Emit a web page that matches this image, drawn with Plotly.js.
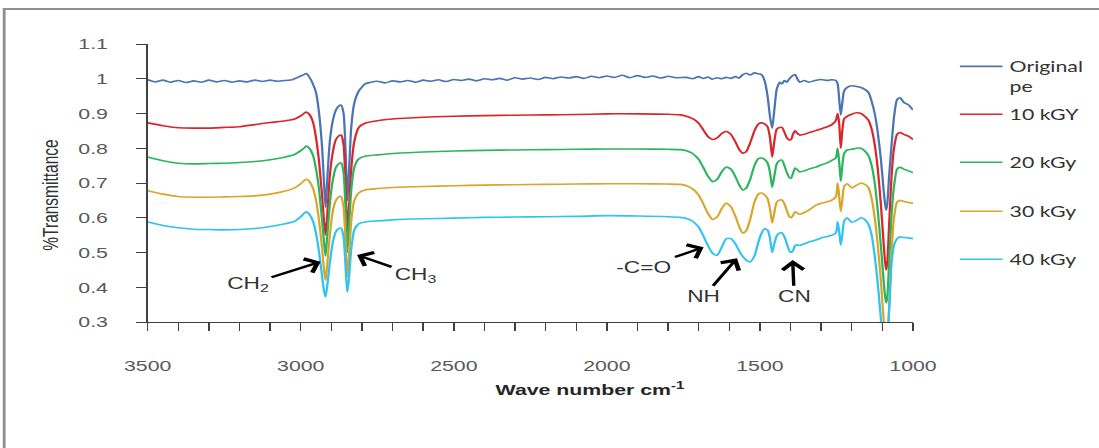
<!DOCTYPE html>
<html><head><meta charset="utf-8">
<script src="https://cdn.plot.ly/plotly-3.0.1.min.js"></script>
<style>
html,body{margin:0;padding:0;background:#fff;overflow:hidden;}
#wrap{width:1099px;height:448px;overflow:hidden;position:relative;background:#fff;}
#chart{width:774px;height:448px;transform:scaleX(1.4199);transform-origin:0 0;}
</style></head>
<body><div id="wrap"><div id="chart"></div></div>
<script>
// ---------- data ----------
var seriesNames = ["Original pe", "10 kGY", "20 kGy", "30 kGy", "40 kGy"];

// wavenumbers (cm-1) for the original spectrum
var wnOrig = [
  3500,3475,3450,3425,3400,3375,3350,3325,3300,3275,3250,3225,3200,3175,3150,3125,3100,3075,3050,3025,
  3020,3000,2990,2982,2972,2960,2950,2940,2930,2924,2919,2914,2905,2895,2885,2875,2868,2860,2853,2848,2843,2835,2825,2810,2790,
  2775,2750,2725,2700,2675,2650,2625,2600,2575,2550,2525,2500,2475,2450,2425,2400,2375,2350,2325,2300,2275,2250,2225,2200,2175,2150,2125,2100,2075,2050,2025,2000,1975,1950,1925,1900,1875,1850,1825,1800,1775,
  1740,1720,1700,1685,1670,1655,1640,1625,1610,1595,1580,1568,1556,1545,1532,1518,1505,1495,1485,1475,1467,1460,1453,1445,1435,1428,1420,1412,1404,1398,1392,1385,1378,1370,1355,1340,
  1320,1300,1280,1265,1252,1246,1241,1236,1231,1225,1215,1200,1185,1170,1155,1145,1135,1125,1115,1105,1097,1092,1088,1084,1078,1070,1062,1052,1042,1030,1015,1000
];
var yOrig = [
  0.997,0.991,0.996,0.990,0.995,0.989,0.994,0.990,0.996,0.991,0.995,0.990,0.994,0.991,0.996,0.992,0.996,0.993,0.995,0.998,
  1.000,1.008,1.012,1.015,1.005,0.985,0.960,0.900,0.800,0.700,0.630,0.700,0.820,0.880,0.910,0.922,0.924,0.900,0.780,0.650,0.720,0.860,0.930,0.965,0.985,
  0.989,0.993,0.988,0.994,0.991,0.995,0.990,0.996,0.993,0.997,0.992,0.998,0.995,0.999,0.994,1.000,0.997,1.001,0.996,1.003,0.999,1.002,0.998,1.004,1.000,1.005,1.002,1.006,1.001,1.007,1.003,1.008,1.004,1.010,1.003,1.009,1.004,1.008,1.002,1.007,1.003,
  1.004,1.000,1.006,1.001,1.005,0.999,1.003,1.000,1.004,1.001,1.006,1.002,1.012,1.016,1.011,1.017,1.014,1.012,0.995,0.950,0.890,0.858,0.910,0.970,0.990,0.985,0.995,0.990,1.000,1.005,1.010,1.012,1.000,0.990,0.995,0.990,
  0.995,0.998,0.995,0.997,0.995,0.985,0.940,0.896,0.930,0.965,0.975,0.980,0.978,0.975,0.968,0.960,0.935,0.900,0.845,0.770,0.690,0.645,0.622,0.640,0.720,0.810,0.890,0.940,0.945,0.932,0.925,0.910
];

// wavenumbers (cm-1) for the irradiated spectra
var wnIrr = [
  3500,3450,3400,3350,3300,3250,3200,3150,3100,3050,
  3020,3000,2990,2982,2972,2960,2950,2940,2930,2924,2919,2914,2905,2895,2885,2875,2868,2860,2853,2848,2843,2835,2825,2810,2790,
  2750,2700,2600,2500,2400,2300,2200,2100,2000,1900,1800,1760,
  1740,1720,1700,1685,1670,1655,1640,1625,1610,1595,1580,1568,1556,1545,1532,1518,1505,1495,1485,1475,1467,1460,1453,1445,1435,1428,1420,1412,1404,1398,1392,1385,1378,1370,1355,1340,
  1320,1300,1280,1265,1252,1246,1241,1236,1231,1225,1215,1200,1185,1170,1155,1145,1135,1125,1115,1105,1097,1092,1088,1084,1078,1070,1062,1052,1042,1030,1015,1000
];
var y10 = [
  0.873,0.865,0.859,0.858,0.858,0.860,0.862,0.868,0.874,0.879,
  0.884,0.893,0.900,0.904,0.898,0.875,0.830,0.760,0.660,0.590,0.550,0.600,0.720,0.790,0.825,0.836,0.838,0.810,0.680,0.560,0.620,0.740,0.820,0.860,0.872,
  0.879,0.884,0.889,0.892,0.894,0.895,0.896,0.897,0.899,0.899,0.898,0.896,
  0.892,0.885,0.872,0.853,0.834,0.825,0.830,0.842,0.848,0.840,0.818,0.797,0.786,0.790,0.815,0.850,0.870,0.873,0.870,0.862,0.830,0.775,0.820,0.855,0.860,0.860,0.846,0.830,0.824,0.825,0.840,0.850,0.843,0.838,0.840,0.845,
  0.850,0.856,0.862,0.868,0.880,0.900,0.870,0.800,0.850,0.885,0.892,0.898,0.902,0.900,0.890,0.880,0.855,0.810,0.740,0.640,0.540,0.480,0.450,0.470,0.580,0.720,0.800,0.840,0.845,0.840,0.835,0.825
];
var y20 = [
  0.775,0.764,0.757,0.755,0.756,0.757,0.759,0.762,0.767,0.775,
  0.782,0.793,0.800,0.806,0.800,0.780,0.740,0.680,0.590,0.530,0.490,0.540,0.640,0.710,0.745,0.756,0.758,0.730,0.610,0.500,0.560,0.680,0.745,0.770,0.777,
  0.781,0.785,0.789,0.792,0.794,0.795,0.796,0.797,0.798,0.798,0.797,0.796,
  0.793,0.785,0.768,0.745,0.720,0.704,0.710,0.732,0.746,0.740,0.718,0.695,0.680,0.685,0.710,0.750,0.770,0.772,0.768,0.758,0.730,0.688,0.720,0.755,0.765,0.766,0.750,0.730,0.716,0.714,0.728,0.743,0.738,0.732,0.735,0.740,
  0.745,0.752,0.758,0.765,0.772,0.800,0.760,0.705,0.750,0.785,0.795,0.797,0.800,0.800,0.790,0.778,0.750,0.700,0.620,0.520,0.430,0.380,0.355,0.370,0.470,0.610,0.690,0.740,0.745,0.740,0.735,0.730
];
var y30 = [
  0.678,0.668,0.661,0.659,0.659,0.660,0.661,0.663,0.668,0.677,
  0.686,0.698,0.706,0.711,0.705,0.685,0.650,0.590,0.510,0.450,0.420,0.460,0.550,0.620,0.650,0.660,0.661,0.630,0.520,0.430,0.480,0.590,0.650,0.672,0.680,
  0.684,0.687,0.690,0.692,0.694,0.695,0.696,0.697,0.698,0.698,0.697,0.696,
  0.692,0.683,0.665,0.640,0.613,0.595,0.602,0.626,0.642,0.632,0.604,0.575,0.556,0.562,0.595,0.645,0.668,0.671,0.666,0.655,0.625,0.585,0.615,0.645,0.651,0.651,0.640,0.620,0.603,0.600,0.607,0.617,0.614,0.610,0.615,0.622,
  0.635,0.642,0.646,0.651,0.660,0.700,0.660,0.618,0.650,0.690,0.698,0.686,0.693,0.700,0.695,0.686,0.655,0.600,0.520,0.420,0.320,0.260,0.230,0.250,0.340,0.500,0.600,0.645,0.650,0.647,0.644,0.642
];
var y40 = [
  0.588,0.578,0.571,0.567,0.566,0.565,0.566,0.569,0.575,0.583,
  0.590,0.603,0.612,0.617,0.610,0.590,0.555,0.500,0.430,0.390,0.372,0.400,0.470,0.530,0.560,0.569,0.570,0.545,0.450,0.386,0.420,0.510,0.565,0.583,0.588,
  0.591,0.594,0.597,0.599,0.601,0.602,0.603,0.604,0.606,0.605,0.603,0.601,
  0.598,0.590,0.573,0.548,0.520,0.498,0.492,0.515,0.540,0.540,0.525,0.505,0.488,0.478,0.473,0.490,0.530,0.555,0.568,0.565,0.540,0.500,0.525,0.548,0.556,0.556,0.545,0.525,0.505,0.500,0.505,0.520,0.522,0.520,0.525,0.530,
  0.535,0.542,0.546,0.550,0.556,0.588,0.560,0.522,0.550,0.590,0.600,0.587,0.592,0.600,0.593,0.580,0.550,0.490,0.410,0.310,0.220,0.190,0.200,0.230,0.330,0.470,0.520,0.540,0.545,0.543,0.542,0.540
];

var yTickVals = [0.3,0.4,0.5,0.6,0.7,0.8,0.9,1.0,1.1];
var yTickText = ["0.3","0.4","0.5","0.6","0.7","0.8","0.9","1","1.1"];

// band labels: text, label position, arrow head (wavenumber, transmittance)
var bandLabels = ["CH<sub>2</sub>", "CH<sub>3</sub>", "-C=O", "NH", "CN"];
var labelPos  = [[3174,0.407],[2625,0.435],[1878,0.457],[1684,0.3725],[1388,0.3725]];
var arrowHead = [[2935,0.4735],[2816,0.493],[1684,0.515],[1575,0.4833],[1393,0.4784]];

// ---------- chart ----------
var colors = ["#4a74b4", "#d9262b", "#2db45c", "#d8a62a", "#30c2f0"];
var xs = [wnOrig, wnIrr, wnIrr, wnIrr, wnIrr];
var ys = [yOrig, y10, y20, y30, y40];
var legendIds = ["legend", "legend2", "legend3", "legend4", "legend5"];
var legendTops = [0.978, 0.806, 0.633, 0.457, 0.284];

var traces = [];
for (var i=0;i<5;i++){
  var nm = (i===0) ? seriesNames[0].replace(" ", "<br>") : seriesNames[i];
  traces.push({
    x: xs[i], y: ys[i], type: "scatter", mode: "lines", name: nm,
    legend: legendIds[i],
    line: {color: colors[i], width: 1.6, shape: "spline", smoothing: 0.6},
    hoverinfo: "skip"
  });
}

var annotations = [];
for (var k=0;k<bandLabels.length;k++){
  annotations.push({
    xref:"x", yref:"y", axref:"x", ayref:"y",
    x: arrowHead[k][0], y: arrowHead[k][1], ax: labelPos[k][0], ay: labelPos[k][1],
    text: bandLabels[k], showarrow:true, arrowhead:4, arrowsize:1.2, arrowwidth:2.4,
    arrowcolor:"#000000", standoff:0, startstandoff:1,
    font:{family:"Liberation Sans, Arial, sans-serif", size:16, color:"#333333"}
  });
}
annotations.push({
  xref:"paper", yref:"paper", x:0.578, y:-0.24, xanchor:"center", yanchor:"middle",
  text:"Wave number cm<sup>-1</sup>", showarrow:false,
  font:{family:"Liberation Sans, Arial, sans-serif", size:15, color:"#262626", weight:"bold"}
});
annotations.push({
  xref:"paper", yref:"paper", x:-0.1266, y:0.457, xanchor:"center", yanchor:"middle",
  text:"%Transmittance", textangle:-90, showarrow:false,
  font:{family:"Liberation Sans, Arial, sans-serif", size:15.5, color:"#333333"}
});

var layout = {
  width: 774, height: 448,
  margin: {l:103.5, r:131, t:44, b:126, pad:0, autoexpand:false},
  paper_bgcolor:"#ffffff", plot_bgcolor:"#ffffff",
  showlegend:true,
  xaxis:{range:[3500,1000], autorange:false, showgrid:false, zeroline:false,
         showline:true, linecolor:"#404040", linewidth:1,
         tickmode:"linear", tick0:1000, dtick:500, ticks:"outside", ticklen:8, tickcolor:"#404040", tickwidth:1,
         minor:{dtick:100, tick0:1000, ticks:"outside", ticklen:8, tickcolor:"#404040", tickwidth:1, showgrid:false},
         ticklabelstandoff:22,
         tickfont:{family:"Liberation Sans, Arial, sans-serif", size:15, color:"#595959"}},
  yaxis:{range:[0.3,1.1], autorange:false, showgrid:false, zeroline:false,
         showline:true, linecolor:"#404040", linewidth:1,
         tickmode:"array", tickvals:yTickVals, ticktext:yTickText,
         ticks:"outside", ticklen:7, tickcolor:"#404040", tickwidth:1,
         ticklabelstandoff:17,
         tickfont:{family:"Liberation Sans, Arial, sans-serif", size:15, color:"#595959"}},
  annotations: annotations,
  shapes:[{type:"rect", xref:"paper", yref:"paper", x0:-0.1875, x1:1.5, y0:-0.7, y1:1.126,
           line:{color:"#8e8e8e", width:2}, fillcolor:"rgba(0,0,0,0)", layer:"below"}]
};
for (var j=0;j<5;j++){
  layout[legendIds[j]] = {
    x:1.052, xanchor:"left", y:legendTops[j], yanchor:"top", valign:"top",
    font:{family:"Lato, Carlito, sans-serif", size:15, color:"#333333"},
    bgcolor:"rgba(0,0,0,0)", borderwidth:0
  };
}

Plotly.newPlot("chart", traces, layout, {staticPlot:true, displayModeBar:false});
</script>
</body></html>
